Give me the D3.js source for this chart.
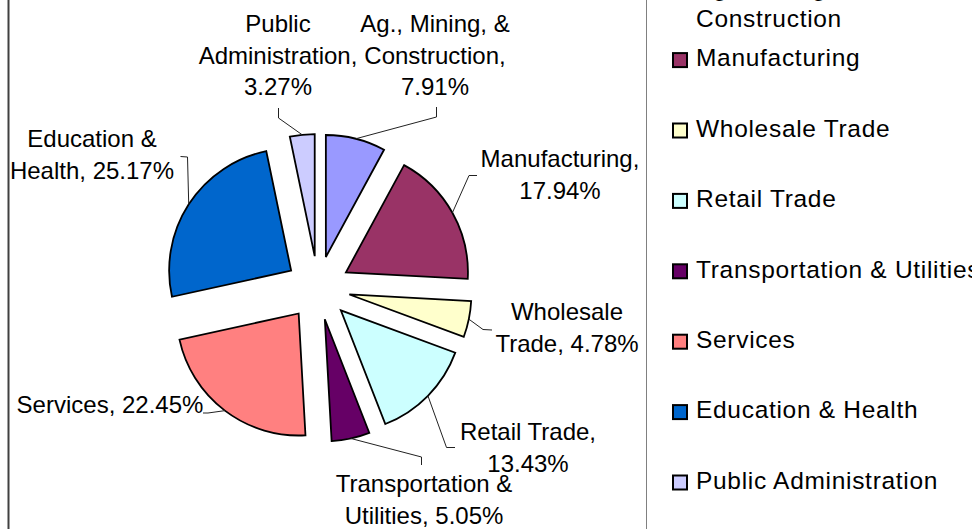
<!DOCTYPE html>
<html>
<head>
<meta charset="utf-8">
<script src="https://cdn.jsdelivr.net/npm/d3@7"></script>
<style>
  body { margin: 0; background: #fff; }
  svg { display: block; font-family: "Liberation Sans", Arial, sans-serif; }
</style>
</head>
<body>
<svg width="972" height="529"></svg>
<script>
// data
var categories = ["Ag., Mining, & Construction", "Manufacturing", "Wholesale Trade", "Retail Trade",
  "Transportation & Utilities", "Services", "Education & Health", "Public Administration"];
var shares = [7.91, 17.94, 4.78, 13.43, 5.05, 22.45, 25.17, 3.27];
var colors = ["#9999FF", "#993366", "#FFFFCC", "#CCFFFF", "#660066", "#FF8080", "#0066CC", "#CCCCFF"];

// label layout (text centre x, first baseline, wrap width, leader elbow + end)
var labelLayout = [
  { x: 435, y: 32, wrap: 165, elbow: [436.5, 117], end: [436.5, 107] },
  { x: 560, y: 167, wrap: 165, elbow: [469, 175.5], end: [477, 175.5] },
  { x: 567, y: 320, wrap: 165, elbow: [483, 329.5], end: [492, 330] },
  { x: 528, y: 440, wrap: 165, elbow: [446.5, 447.5], end: [455, 447.5] },
  { x: 424, y: 492, wrap: 200, elbow: [421.5, 457], end: [421.5, 465] },
  { x: 110, y: 413, wrap: 250, elbow: [208, 413], end: [203, 413] },
  { x: 92, y: 147, wrap: 180, elbow: [187.5, 157], end: [180.5, 156.5] },
  { x: 278, y: 32, wrap: 170, elbow: [278.5, 118], end: [278.5, 108] }
];
var legendWrapAfter = [3, 0, 0, 0, 0, 0, 0, 0];

var svg = d3.select("svg");
var width = 972, height = 529;
var cx = 318, cy = 288, radius = 122, explode = 32;
var lineH = 31.5;

// frame
svg.append("rect").attr("x", 8.5).attr("y", -10).attr("width", 1100).attr("height", 600)
  .attr("fill", "none").attr("stroke", "#404040").attr("stroke-width", 2);
svg.append("rect").attr("x", 646.5).attr("y", -10).attr("width", 500).attr("height", 600)
  .attr("fill", "none").attr("stroke", "#808080").attr("stroke-width", 1);

var pie = d3.pie().sort(null).value(function(d) { return d; });
var arcs = pie(shares);
var arc = d3.arc().innerRadius(0).outerRadius(radius);

function dir(a) { return [Math.sin(a), -Math.cos(a)]; }

var g = svg.append("g").attr("transform", "translate(" + cx + "," + cy + ")");

g.selectAll("path.slice")
  .data(arcs)
  .enter()
  .append("path")
  .attr("class", "slice")
  .attr("transform", function(d) {
    var v = dir((d.startAngle + d.endAngle) / 2);
    return "translate(" + v[0] * explode + "," + v[1] * explode + ")";
  })
  .attr("d", arc)
  .attr("fill", function(d, i) { return colors[i]; })
  .attr("stroke", "#000")
  .attr("stroke-width", 1.8)
  .attr("stroke-linejoin", "miter");

// leader lines
svg.selectAll("polyline.leader")
  .data(arcs)
  .enter()
  .append("polyline")
  .attr("class", "leader")
  .attr("points", function(d, i) {
    var v = dir((d.startAngle + d.endAngle) / 2);
    var p = [cx + v[0] * (explode + radius), cy + v[1] * (explode + radius)];
    var L = labelLayout[i];
    return [p, L.elbow, L.end].map(function(q) { return q.join(","); }).join(" ");
  })
  .attr("fill", "none")
  .attr("stroke", "#222")
  .attr("stroke-width", 1);

// data labels
var measure = svg.append("text").attr("font-size", 24).attr("visibility", "hidden");
function textW(s) { measure.text(s); return measure.node().getComputedTextLength(); }
function wrapWords(s, w) {
  var words = s.split(" "), lines = [], cur = "";
  words.forEach(function(word) {
    var t = cur ? cur + " " + word : word;
    if (cur && textW(t) > w) { lines.push(cur); cur = word; } else cur = t;
  });
  if (cur) lines.push(cur);
  return lines;
}

categories.forEach(function(name, i) {
  var L = labelLayout[i];
  var lines = wrapWords(name + ", " + shares[i].toFixed(2) + "%", L.wrap);
  var t = svg.append("text")
    .attr("text-anchor", "middle")
    .attr("font-size", 24)
    .attr("fill", "#000");
  lines.forEach(function(ln, k) {
    t.append("tspan").attr("x", L.x).attr("y", L.y + k * lineH).text(ln);
  });
});
measure.remove();

// legend
var legStep = 70.4, legTop = -10.3;
var leg = svg.selectAll("g.leg")
  .data(categories)
  .enter()
  .append("g")
  .attr("class", "leg")
  .attr("transform", function(d, i) { return "translate(673," + (legTop + i * legStep) + ")"; });

leg.append("rect")
  .attr("x", 0).attr("y", -7).attr("width", 14).attr("height", 14)
  .attr("fill", function(d, i) { return colors[i]; })
  .attr("stroke", "#000").attr("stroke-width", 2);

leg.each(function(d, i) {
  var words = d.split(" ");
  var n = legendWrapAfter[i];
  var lines = n ? [words.slice(0, n).join(" "), words.slice(n).join(" ")] : [d];
  var t = d3.select(this).append("text").attr("font-size", 24.5)
    .attr("letter-spacing", 0.7).attr("fill", "#000");
  lines.forEach(function(ln, k) {
    t.append("tspan").attr("x", 23).attr("y", 6.3 + k * lineH).text(ln);
  });
});
</script>
</body>
</html>
